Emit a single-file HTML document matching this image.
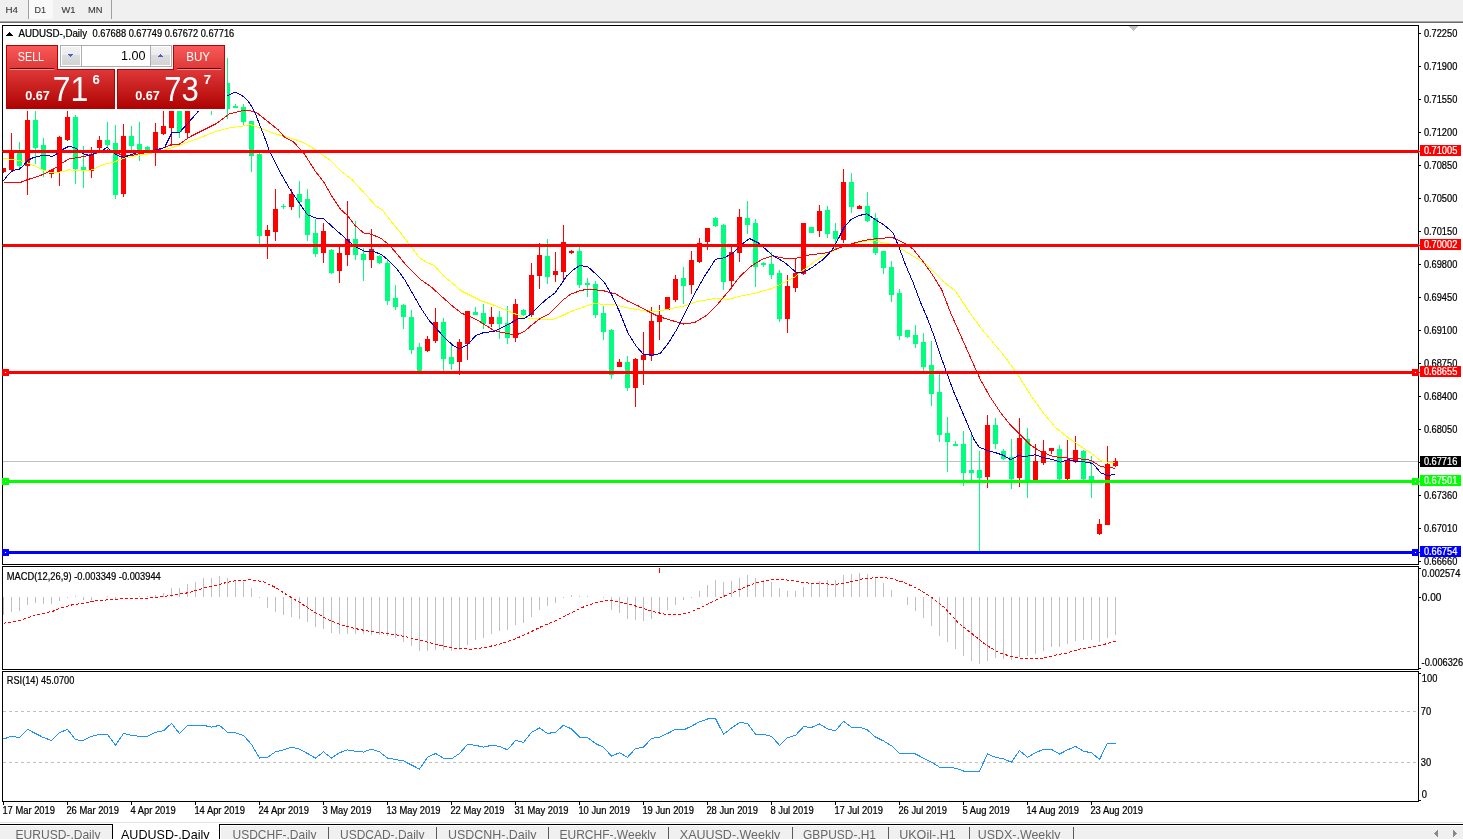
<!DOCTYPE html>
<html><head><meta charset="utf-8"><title>AUDUSD-,Daily</title>
<style>
html,body{margin:0;padding:0;background:#fff;}
body{width:1463px;height:839px;overflow:hidden;}
svg{display:block;}
text{font-family:'Liberation Sans', 'DejaVu Sans', Arial, sans-serif;}
</style></head><body>
<svg width="1463" height="839" viewBox="0 0 1463 839" shape-rendering="crispEdges">
<rect x="0" y="0" width="1463" height="839" fill="#ffffff"/>
<rect x="0" y="0" width="1463" height="21" fill="#f0f0f0"/>
<rect x="0" y="21" width="1463" height="1" fill="#a8a8a8"/>
<rect x="0" y="22" width="1463" height="1" fill="#6c6c6c"/>
<rect x="29" y="0" width="24" height="19" fill="#f9f9f9"/>
<rect x="28" y="0" width="1" height="19" fill="#a0a0a0"/>
<rect x="111" y="0" width="1" height="19" fill="#a0a0a0"/>
<text x="5.5" y="13.1" font-size="9.7" fill="#3a3a3a" stroke="#3a3a3a" stroke-width="0.12" textLength="12.5" lengthAdjust="spacingAndGlyphs">H4</text>
<text x="34.5" y="13.1" font-size="9.7" fill="#3a3a3a" stroke="#3a3a3a" stroke-width="0.12" textLength="11.5" lengthAdjust="spacingAndGlyphs">D1</text>
<text x="61.5" y="13.1" font-size="9.7" fill="#3a3a3a" stroke="#3a3a3a" stroke-width="0.12" textLength="14" lengthAdjust="spacingAndGlyphs">W1</text>
<text x="88" y="13.1" font-size="9.7" fill="#3a3a3a" stroke="#3a3a3a" stroke-width="0.12" textLength="14.5" lengthAdjust="spacingAndGlyphs">MN</text>
<g fill="none" stroke="#000" stroke-width="1">
<rect x="2.5" y="25.5" width="1416" height="539"/>
<rect x="2.5" y="566.5" width="1416" height="103"/>
<rect x="2.5" y="671.5" width="1416" height="130"/>
</g>
<polygon points="1129,26 1138.5,26 1133.75,31" fill="#c0c0c0"/>
<svg x="3" y="26" width="1415" height="538" viewBox="3 26 1415 538" overflow="hidden">
<rect x="3" y="461" width="1415" height="1" fill="#c0c0c0"/>
<rect x="3" y="168" width="1" height="5" fill="#ff0000"/>
<rect x="1" y="168" width="5" height="4" fill="#ff0000"/>
<rect x="11" y="133" width="1" height="38" fill="#ff0000"/>
<rect x="9" y="152" width="5" height="18" fill="#ff0000"/>
<rect x="19" y="142" width="1" height="26" fill="#00ff7f"/>
<rect x="17" y="153" width="5" height="13" fill="#00ff7f"/>
<rect x="27" y="100" width="1" height="95" fill="#ff0000"/>
<rect x="25" y="120" width="5" height="46" fill="#ff0000"/>
<rect x="35" y="100" width="1" height="64" fill="#00ff7f"/>
<rect x="33" y="120" width="5" height="28" fill="#00ff7f"/>
<rect x="43" y="138" width="1" height="39" fill="#00ff7f"/>
<rect x="41" y="145" width="5" height="25" fill="#00ff7f"/>
<rect x="51" y="169" width="1" height="9" fill="#ff0000"/>
<rect x="49" y="170" width="5" height="4" fill="#ff0000"/>
<rect x="59" y="136" width="1" height="50" fill="#ff0000"/>
<rect x="57" y="137" width="5" height="35" fill="#ff0000"/>
<rect x="67" y="100" width="1" height="41" fill="#ff0000"/>
<rect x="65" y="117" width="5" height="23" fill="#ff0000"/>
<rect x="75" y="115" width="1" height="69" fill="#00ff7f"/>
<rect x="73" y="117" width="5" height="52" fill="#00ff7f"/>
<rect x="83" y="146" width="1" height="42" fill="#00ff7f"/>
<rect x="81" y="167" width="5" height="4" fill="#00ff7f"/>
<rect x="91" y="147" width="1" height="31" fill="#ff0000"/>
<rect x="89" y="154" width="5" height="17" fill="#ff0000"/>
<rect x="99" y="136" width="1" height="14" fill="#ff0000"/>
<rect x="97" y="140" width="5" height="8" fill="#ff0000"/>
<rect x="107" y="122" width="1" height="25" fill="#00ff7f"/>
<rect x="105" y="140" width="5" height="5" fill="#00ff7f"/>
<rect x="115" y="125" width="1" height="74" fill="#00ff7f"/>
<rect x="113" y="143" width="5" height="52" fill="#00ff7f"/>
<rect x="123" y="124" width="1" height="73" fill="#ff0000"/>
<rect x="121" y="136" width="5" height="58" fill="#ff0000"/>
<rect x="131" y="126" width="1" height="27" fill="#00ff7f"/>
<rect x="129" y="136" width="5" height="10" fill="#00ff7f"/>
<rect x="139" y="122" width="1" height="39" fill="#00ff7f"/>
<rect x="137" y="144" width="5" height="8" fill="#00ff7f"/>
<rect x="147" y="146" width="1" height="7" fill="#00ff7f"/>
<rect x="145" y="147" width="5" height="5" fill="#00ff7f"/>
<rect x="155" y="123" width="1" height="43" fill="#ff0000"/>
<rect x="153" y="132" width="5" height="20" fill="#ff0000"/>
<rect x="163" y="111" width="1" height="24" fill="#ff0000"/>
<rect x="161" y="126" width="5" height="8" fill="#ff0000"/>
<rect x="171" y="90" width="1" height="56" fill="#ff0000"/>
<rect x="169" y="95" width="5" height="33" fill="#ff0000"/>
<rect x="179" y="85" width="1" height="53" fill="#00ff7f"/>
<rect x="177" y="95" width="5" height="37" fill="#00ff7f"/>
<rect x="187" y="85" width="1" height="54" fill="#ff0000"/>
<rect x="185" y="95" width="5" height="38" fill="#ff0000"/>
<rect x="195" y="70" width="1" height="36" fill="#00ff7f"/>
<rect x="193" y="85" width="5" height="16" fill="#00ff7f"/>
<rect x="203" y="60" width="1" height="41" fill="#ff0000"/>
<rect x="201" y="70" width="5" height="26" fill="#ff0000"/>
<rect x="211" y="60" width="1" height="55" fill="#00ff7f"/>
<rect x="209" y="70" width="5" height="31" fill="#00ff7f"/>
<rect x="219" y="60" width="1" height="41" fill="#ff0000"/>
<rect x="217" y="70" width="5" height="21" fill="#ff0000"/>
<rect x="227" y="58" width="1" height="61" fill="#00ff7f"/>
<rect x="225" y="83" width="5" height="26" fill="#00ff7f"/>
<rect x="235" y="104" width="1" height="4" fill="#00ff7f"/>
<rect x="233" y="106" width="5" height="2" fill="#00ff7f"/>
<rect x="243" y="104" width="1" height="22" fill="#00ff7f"/>
<rect x="241" y="107" width="5" height="15" fill="#00ff7f"/>
<rect x="251" y="121" width="1" height="51" fill="#00ff7f"/>
<rect x="249" y="121" width="5" height="35" fill="#00ff7f"/>
<rect x="259" y="153" width="1" height="91" fill="#00ff7f"/>
<rect x="257" y="154" width="5" height="82" fill="#00ff7f"/>
<rect x="267" y="225" width="1" height="34" fill="#ff0000"/>
<rect x="265" y="230" width="5" height="6" fill="#ff0000"/>
<rect x="275" y="189" width="1" height="52" fill="#ff0000"/>
<rect x="273" y="209" width="5" height="23" fill="#ff0000"/>
<rect x="283" y="204" width="1" height="5" fill="#00ff7f"/>
<rect x="281" y="206" width="5" height="1" fill="#00ff7f"/>
<rect x="291" y="189" width="1" height="21" fill="#ff0000"/>
<rect x="289" y="194" width="5" height="13" fill="#ff0000"/>
<rect x="299" y="181" width="1" height="37" fill="#00ff7f"/>
<rect x="297" y="194" width="5" height="8" fill="#00ff7f"/>
<rect x="307" y="189" width="1" height="52" fill="#00ff7f"/>
<rect x="305" y="199" width="5" height="36" fill="#00ff7f"/>
<rect x="315" y="219" width="1" height="38" fill="#00ff7f"/>
<rect x="313" y="233" width="5" height="21" fill="#00ff7f"/>
<rect x="323" y="223" width="1" height="40" fill="#ff0000"/>
<rect x="321" y="231" width="5" height="22" fill="#ff0000"/>
<rect x="331" y="249" width="1" height="25" fill="#00ff7f"/>
<rect x="329" y="250" width="5" height="23" fill="#00ff7f"/>
<rect x="339" y="247" width="1" height="36" fill="#ff0000"/>
<rect x="337" y="253" width="5" height="18" fill="#ff0000"/>
<rect x="347" y="201" width="1" height="65" fill="#ff0000"/>
<rect x="345" y="239" width="5" height="16" fill="#ff0000"/>
<rect x="355" y="221" width="1" height="39" fill="#00ff7f"/>
<rect x="353" y="239" width="5" height="16" fill="#00ff7f"/>
<rect x="363" y="248" width="1" height="33" fill="#00ff7f"/>
<rect x="361" y="254" width="5" height="6" fill="#00ff7f"/>
<rect x="371" y="229" width="1" height="39" fill="#ff0000"/>
<rect x="369" y="249" width="5" height="11" fill="#ff0000"/>
<rect x="379" y="255" width="1" height="9" fill="#00ff7f"/>
<rect x="377" y="256" width="5" height="7" fill="#00ff7f"/>
<rect x="387" y="260" width="1" height="45" fill="#00ff7f"/>
<rect x="385" y="263" width="5" height="38" fill="#00ff7f"/>
<rect x="395" y="285" width="1" height="25" fill="#00ff7f"/>
<rect x="393" y="298" width="5" height="9" fill="#00ff7f"/>
<rect x="403" y="304" width="1" height="25" fill="#00ff7f"/>
<rect x="401" y="305" width="5" height="12" fill="#00ff7f"/>
<rect x="411" y="310" width="1" height="44" fill="#00ff7f"/>
<rect x="409" y="317" width="5" height="33" fill="#00ff7f"/>
<rect x="419" y="343" width="1" height="30" fill="#00ff7f"/>
<rect x="417" y="347" width="5" height="25" fill="#00ff7f"/>
<rect x="427" y="336" width="1" height="16" fill="#ff0000"/>
<rect x="425" y="339" width="5" height="12" fill="#ff0000"/>
<rect x="435" y="308" width="1" height="35" fill="#ff0000"/>
<rect x="433" y="322" width="5" height="19" fill="#ff0000"/>
<rect x="443" y="318" width="1" height="54" fill="#00ff7f"/>
<rect x="441" y="322" width="5" height="37" fill="#00ff7f"/>
<rect x="451" y="345" width="1" height="25" fill="#00ff7f"/>
<rect x="449" y="357" width="5" height="7" fill="#00ff7f"/>
<rect x="459" y="339" width="1" height="36" fill="#ff0000"/>
<rect x="457" y="342" width="5" height="20" fill="#ff0000"/>
<rect x="467" y="311" width="1" height="49" fill="#ff0000"/>
<rect x="465" y="311" width="5" height="33" fill="#ff0000"/>
<rect x="475" y="307" width="1" height="8" fill="#00ff7f"/>
<rect x="473" y="312" width="5" height="3" fill="#00ff7f"/>
<rect x="483" y="304" width="1" height="25" fill="#00ff7f"/>
<rect x="481" y="313" width="5" height="11" fill="#00ff7f"/>
<rect x="491" y="307" width="1" height="20" fill="#ff0000"/>
<rect x="489" y="317" width="5" height="7" fill="#ff0000"/>
<rect x="499" y="311" width="1" height="28" fill="#00ff7f"/>
<rect x="497" y="317" width="5" height="7" fill="#00ff7f"/>
<rect x="507" y="306" width="1" height="38" fill="#00ff7f"/>
<rect x="505" y="323" width="5" height="15" fill="#00ff7f"/>
<rect x="515" y="299" width="1" height="43" fill="#ff0000"/>
<rect x="513" y="304" width="5" height="34" fill="#ff0000"/>
<rect x="523" y="309" width="1" height="7" fill="#00ff7f"/>
<rect x="521" y="310" width="5" height="5" fill="#00ff7f"/>
<rect x="531" y="263" width="1" height="54" fill="#ff0000"/>
<rect x="529" y="275" width="5" height="40" fill="#ff0000"/>
<rect x="539" y="243" width="1" height="46" fill="#ff0000"/>
<rect x="537" y="255" width="5" height="21" fill="#ff0000"/>
<rect x="547" y="239" width="1" height="45" fill="#00ff7f"/>
<rect x="545" y="256" width="5" height="21" fill="#00ff7f"/>
<rect x="555" y="252" width="1" height="30" fill="#ff0000"/>
<rect x="553" y="271" width="5" height="4" fill="#ff0000"/>
<rect x="563" y="225" width="1" height="56" fill="#ff0000"/>
<rect x="561" y="242" width="5" height="30" fill="#ff0000"/>
<rect x="571" y="250" width="1" height="4" fill="#ff0000"/>
<rect x="569" y="251" width="5" height="2" fill="#ff0000"/>
<rect x="579" y="247" width="1" height="41" fill="#00ff7f"/>
<rect x="577" y="251" width="5" height="34" fill="#00ff7f"/>
<rect x="587" y="278" width="1" height="19" fill="#00ff7f"/>
<rect x="585" y="283" width="5" height="2" fill="#00ff7f"/>
<rect x="595" y="281" width="1" height="37" fill="#00ff7f"/>
<rect x="593" y="284" width="5" height="31" fill="#00ff7f"/>
<rect x="603" y="306" width="1" height="34" fill="#00ff7f"/>
<rect x="601" y="313" width="5" height="19" fill="#00ff7f"/>
<rect x="611" y="329" width="1" height="50" fill="#00ff7f"/>
<rect x="609" y="330" width="5" height="45" fill="#00ff7f"/>
<rect x="619" y="359" width="1" height="8" fill="#ff0000"/>
<rect x="617" y="362" width="5" height="5" fill="#ff0000"/>
<rect x="627" y="356" width="1" height="35" fill="#00ff7f"/>
<rect x="625" y="362" width="5" height="26" fill="#00ff7f"/>
<rect x="635" y="358" width="1" height="49" fill="#ff0000"/>
<rect x="633" y="359" width="5" height="29" fill="#ff0000"/>
<rect x="643" y="332" width="1" height="53" fill="#ff0000"/>
<rect x="641" y="355" width="5" height="5" fill="#ff0000"/>
<rect x="651" y="307" width="1" height="54" fill="#ff0000"/>
<rect x="649" y="321" width="5" height="35" fill="#ff0000"/>
<rect x="659" y="305" width="1" height="35" fill="#ff0000"/>
<rect x="657" y="315" width="5" height="7" fill="#ff0000"/>
<rect x="667" y="297" width="1" height="13" fill="#ff0000"/>
<rect x="665" y="297" width="5" height="13" fill="#ff0000"/>
<rect x="675" y="275" width="1" height="27" fill="#ff0000"/>
<rect x="673" y="279" width="5" height="21" fill="#ff0000"/>
<rect x="683" y="267" width="1" height="37" fill="#00ff7f"/>
<rect x="681" y="278" width="5" height="8" fill="#00ff7f"/>
<rect x="691" y="251" width="1" height="43" fill="#ff0000"/>
<rect x="689" y="260" width="5" height="25" fill="#ff0000"/>
<rect x="699" y="238" width="1" height="25" fill="#ff0000"/>
<rect x="697" y="243" width="5" height="19" fill="#ff0000"/>
<rect x="707" y="228" width="1" height="22" fill="#ff0000"/>
<rect x="705" y="228" width="5" height="14" fill="#ff0000"/>
<rect x="715" y="217" width="1" height="10" fill="#00ff7f"/>
<rect x="713" y="218" width="5" height="8" fill="#00ff7f"/>
<rect x="723" y="224" width="1" height="66" fill="#00ff7f"/>
<rect x="721" y="225" width="5" height="57" fill="#00ff7f"/>
<rect x="731" y="247" width="1" height="42" fill="#ff0000"/>
<rect x="729" y="252" width="5" height="29" fill="#ff0000"/>
<rect x="739" y="209" width="1" height="53" fill="#ff0000"/>
<rect x="737" y="217" width="5" height="36" fill="#ff0000"/>
<rect x="747" y="201" width="1" height="33" fill="#00ff7f"/>
<rect x="745" y="218" width="5" height="7" fill="#00ff7f"/>
<rect x="755" y="219" width="1" height="68" fill="#00ff7f"/>
<rect x="753" y="223" width="5" height="44" fill="#00ff7f"/>
<rect x="763" y="262" width="1" height="5" fill="#00ff7f"/>
<rect x="761" y="263" width="5" height="2" fill="#00ff7f"/>
<rect x="771" y="252" width="1" height="27" fill="#00ff7f"/>
<rect x="769" y="264" width="5" height="11" fill="#00ff7f"/>
<rect x="779" y="270" width="1" height="52" fill="#00ff7f"/>
<rect x="777" y="273" width="5" height="46" fill="#00ff7f"/>
<rect x="787" y="275" width="1" height="58" fill="#ff0000"/>
<rect x="785" y="286" width="5" height="33" fill="#ff0000"/>
<rect x="795" y="258" width="1" height="34" fill="#ff0000"/>
<rect x="793" y="273" width="5" height="15" fill="#ff0000"/>
<rect x="803" y="223" width="1" height="52" fill="#ff0000"/>
<rect x="801" y="223" width="5" height="51" fill="#ff0000"/>
<rect x="811" y="227" width="1" height="6" fill="#00ff7f"/>
<rect x="809" y="227" width="5" height="6" fill="#00ff7f"/>
<rect x="819" y="205" width="1" height="32" fill="#ff0000"/>
<rect x="817" y="211" width="5" height="20" fill="#ff0000"/>
<rect x="827" y="206" width="1" height="32" fill="#00ff7f"/>
<rect x="825" y="210" width="5" height="24" fill="#00ff7f"/>
<rect x="835" y="223" width="1" height="27" fill="#00ff7f"/>
<rect x="833" y="231" width="5" height="8" fill="#00ff7f"/>
<rect x="843" y="169" width="1" height="74" fill="#ff0000"/>
<rect x="841" y="182" width="5" height="58" fill="#ff0000"/>
<rect x="851" y="173" width="1" height="40" fill="#00ff7f"/>
<rect x="849" y="182" width="5" height="25" fill="#00ff7f"/>
<rect x="859" y="205" width="1" height="4" fill="#ff0000"/>
<rect x="857" y="206" width="5" height="3" fill="#ff0000"/>
<rect x="867" y="192" width="1" height="30" fill="#00ff7f"/>
<rect x="865" y="206" width="5" height="15" fill="#00ff7f"/>
<rect x="875" y="213" width="1" height="42" fill="#00ff7f"/>
<rect x="873" y="218" width="5" height="35" fill="#00ff7f"/>
<rect x="883" y="251" width="1" height="23" fill="#00ff7f"/>
<rect x="881" y="251" width="5" height="17" fill="#00ff7f"/>
<rect x="891" y="261" width="1" height="41" fill="#00ff7f"/>
<rect x="889" y="267" width="5" height="28" fill="#00ff7f"/>
<rect x="899" y="289" width="1" height="51" fill="#00ff7f"/>
<rect x="897" y="293" width="5" height="43" fill="#00ff7f"/>
<rect x="907" y="330" width="1" height="8" fill="#00ff7f"/>
<rect x="905" y="330" width="5" height="7" fill="#00ff7f"/>
<rect x="915" y="325" width="1" height="23" fill="#00ff7f"/>
<rect x="913" y="335" width="5" height="9" fill="#00ff7f"/>
<rect x="923" y="333" width="1" height="39" fill="#00ff7f"/>
<rect x="921" y="342" width="5" height="25" fill="#00ff7f"/>
<rect x="931" y="341" width="1" height="65" fill="#00ff7f"/>
<rect x="929" y="365" width="5" height="29" fill="#00ff7f"/>
<rect x="939" y="374" width="1" height="68" fill="#00ff7f"/>
<rect x="937" y="392" width="5" height="43" fill="#00ff7f"/>
<rect x="947" y="417" width="1" height="55" fill="#00ff7f"/>
<rect x="945" y="433" width="5" height="9" fill="#00ff7f"/>
<rect x="955" y="441" width="1" height="5" fill="#00ff7f"/>
<rect x="953" y="444" width="5" height="2" fill="#00ff7f"/>
<rect x="963" y="431" width="1" height="55" fill="#00ff7f"/>
<rect x="961" y="444" width="5" height="29" fill="#00ff7f"/>
<rect x="971" y="434" width="1" height="47" fill="#00ff7f"/>
<rect x="969" y="470" width="5" height="3" fill="#00ff7f"/>
<rect x="979" y="451" width="1" height="101" fill="#00ff7f"/>
<rect x="977" y="470" width="5" height="8" fill="#00ff7f"/>
<rect x="987" y="415" width="1" height="73" fill="#ff0000"/>
<rect x="985" y="425" width="5" height="52" fill="#ff0000"/>
<rect x="995" y="418" width="1" height="31" fill="#00ff7f"/>
<rect x="993" y="425" width="5" height="19" fill="#00ff7f"/>
<rect x="1003" y="449" width="1" height="11" fill="#00ff7f"/>
<rect x="1001" y="451" width="5" height="8" fill="#00ff7f"/>
<rect x="1011" y="439" width="1" height="50" fill="#00ff7f"/>
<rect x="1009" y="457" width="5" height="22" fill="#00ff7f"/>
<rect x="1019" y="418" width="1" height="69" fill="#ff0000"/>
<rect x="1017" y="438" width="5" height="40" fill="#ff0000"/>
<rect x="1027" y="428" width="1" height="70" fill="#00ff7f"/>
<rect x="1025" y="439" width="5" height="41" fill="#00ff7f"/>
<rect x="1035" y="444" width="1" height="37" fill="#ff0000"/>
<rect x="1033" y="461" width="5" height="19" fill="#ff0000"/>
<rect x="1043" y="440" width="1" height="25" fill="#ff0000"/>
<rect x="1041" y="451" width="5" height="12" fill="#ff0000"/>
<rect x="1051" y="448" width="1" height="6" fill="#ff0000"/>
<rect x="1049" y="448" width="5" height="3" fill="#ff0000"/>
<rect x="1059" y="445" width="1" height="35" fill="#00ff7f"/>
<rect x="1057" y="449" width="5" height="30" fill="#00ff7f"/>
<rect x="1067" y="440" width="1" height="40" fill="#ff0000"/>
<rect x="1065" y="460" width="5" height="19" fill="#ff0000"/>
<rect x="1075" y="436" width="1" height="27" fill="#ff0000"/>
<rect x="1073" y="450" width="5" height="12" fill="#ff0000"/>
<rect x="1083" y="450" width="1" height="31" fill="#00ff7f"/>
<rect x="1081" y="451" width="5" height="28" fill="#00ff7f"/>
<rect x="1091" y="456" width="1" height="42" fill="#00ff7f"/>
<rect x="1089" y="476" width="5" height="6" fill="#00ff7f"/>
<rect x="1099" y="519" width="1" height="16" fill="#ff0000"/>
<rect x="1097" y="524" width="5" height="10" fill="#ff0000"/>
<rect x="1107" y="446" width="1" height="79" fill="#ff0000"/>
<rect x="1105" y="464" width="5" height="61" fill="#ff0000"/>
<rect x="1115" y="458" width="1" height="9" fill="#ff0000"/>
<rect x="1113" y="461" width="5" height="5" fill="#ff0000"/>
<g shape-rendering="crispEdges">
<polyline points="3.5,158.3 14.2,159.7 21.0,161.0 27.8,163.1 36.0,166.5 42.9,169.9 49.7,172.3 55.2,172.7 62.0,171.7 68.9,169.9 75.7,170.3 82.5,170.3 90.7,170.3 96.2,167.9 104.4,164.1 112.6,162.4 118.1,160.4 123.5,158.3 131.7,156.7 139.9,155.3 148.1,153.9 156.3,152.2 164.5,149.8 172.7,147.4 179.6,145.3 186.4,142.6 193.3,140.3 203.4,136.5 216.3,131.1 229.1,127.9 242.0,126.2 250.6,124.7 259.2,127.9 272.0,132.6 282.8,136.1 295.7,139.7 306.4,144.0 319.3,152.6 330.0,160.1 340.7,170.8 352.4,180.0 364.3,193.1 376.3,206.2 382.2,209.8 390.5,220.5 400.1,232.4 408.4,243.2 412.0,247.9 419.2,257.5 426.3,262.2 434.7,265.8 443.3,275.8 453.4,283.9 461.6,291.0 471.7,296.1 481.8,301.1 494.0,305.2 506.1,310.2 516.3,314.3 522.3,317.3 530.5,318.3 540.6,319.4 552.7,319.4 558.8,317.3 568.9,312.3 581.8,307.6 593.1,303.7 604.5,304.2 615.8,304.9 629.4,308.3 643.0,310.5 656.6,311.4 667.9,309.2 683.8,306.0 697.3,301.5 715.5,298.5 729.1,299.2 742.6,295.6 756.2,292.9 772.4,288.5 784.3,282.5 793.9,277.7 803.4,270.1 815.3,261.0 827.2,253.9 839.2,247.9 851.1,243.9 863.0,241.5 872.5,240.1 882.1,242.5 894.0,244.8 903.5,250.3 915.5,257.5 927.4,265.3 943.0,281.3 955.5,291.3 968.0,310.1 980.6,327.6 993.1,342.6 1005.6,357.6 1018.1,375.1 1030.6,395.2 1043.1,412.7 1055.7,427.7 1068.2,437.7 1080.7,446.5 1090.7,452.7 1100.7,460.7 1108.2,462.2 1115.2,462.7" fill="none" stroke="#ffff00" stroke-width="1"/>
<polyline points="3.5,182.6 16.9,182.6 21.0,182.2 27.8,179.5 34.7,177.5 41.5,175.0 48.3,172.0 56.5,167.2 62.0,163.1 68.9,159.0 77.1,157.6 85.3,156.3 93.5,154.2 100.3,151.5 107.5,150.0 115.3,153.0 123.5,155.0 131.7,155.6 139.9,153.5 148.1,152.6 156.3,151.5 164.5,147.4 171.4,144.6 179.6,144.0 186.4,139.2 190.5,136.5 203.4,130.1 216.3,123.6 229.1,114.0 242.0,110.8 250.6,110.8 257.0,112.9 267.8,121.5 278.5,130.1 284.9,137.6 293.5,141.9 304.2,153.7 315.0,170.8 323.5,181.6 332.1,196.6 340.7,209.5 347.7,215.8 354.8,225.3 363.7,233.0 371.5,234.2 381.0,238.4 388.6,244.4 396.7,253.5 404.8,263.6 412.9,271.7 421.0,279.8 431.2,286.9 441.3,296.1 451.4,305.2 461.6,313.3 469.7,316.3 477.8,320.4 485.9,325.4 494.0,330.5 502.1,332.5 510.2,334.1 518.3,334.1 524.4,331.5 532.5,324.4 540.6,318.3 548.7,314.3 554.8,308.2 562.9,300.1 571.0,294.0 581.8,290.1 593.1,289.5 604.5,291.0 615.8,294.0 627.1,300.8 638.5,306.0 647.5,311.0 658.8,316.6 670.2,320.0 683.8,324.1 695.1,322.3 706.4,315.5 717.7,304.2 729.1,290.6 740.4,275.9 751.7,265.7 763.0,258.9 772.4,255.8 784.3,258.2 796.3,258.2 808.2,255.1 827.2,252.7 839.2,247.9 851.1,243.9 863.0,240.8 872.5,239.1 882.1,238.4 891.6,237.2 903.5,242.5 913.1,249.1 922.6,261.0 932.1,274.2 941.7,289.7 950.5,312.6 960.5,335.1 970.5,357.6 980.6,380.1 990.6,397.7 1000.6,412.7 1010.6,425.2 1020.6,435.2 1030.6,445.2 1040.6,451.5 1050.7,455.7 1060.7,457.7 1070.7,458.2 1080.7,459.0 1090.7,460.2 1100.7,466.5 1108.2,467.7 1115.2,468.2" fill="none" stroke="#ff0000" stroke-width="1"/>
<polyline points="3.5,181.0 7.5,175.4 12.8,170.6 19.6,169.0 23.7,165.2 27.8,160.4 33.3,157.6 40.1,155.9 47.0,155.6 52.4,156.4 57.9,153.1 63.4,149.0 68.9,146.3 74.3,147.4 78.4,150.1 83.9,153.9 89.4,155.6 94.8,153.5 100.3,151.5 107.1,147.4 109.9,150.1 115.3,154.2 120.8,156.7 124.9,157.2 129.0,155.3 135.8,153.1 142.7,151.8 150.9,150.8 157.7,149.4 164.5,147.7 172.1,132.3 179.6,132.3 186.4,124.8 191.9,118.7 198.0,111.6 205.5,104.0 212.5,99.0 220.5,96.0 227.8,95.7 231.5,93.5 235.7,92.4 242.2,95.7 247.5,100.3 251.4,106.2 255.4,113.4 259.3,123.9 264.5,137.0 268.8,149.4 274.2,160.1 280.6,173.0 289.2,188.0 297.8,200.9 307.5,214.8 316.0,218.0 323.5,218.5 332.1,226.6 340.7,234.1 349.3,241.7 355.7,247.0 364.3,251.3 372.9,251.3 381.5,254.5 388.6,260.6 396.7,268.7 404.8,279.8 412.9,294.0 421.0,308.2 429.1,320.4 437.2,329.5 445.3,338.6 453.4,345.7 459.5,348.7 467.6,344.7 475.7,335.6 483.8,332.5 494.0,331.5 502.1,327.5 510.2,323.4 518.3,318.7 524.4,318.3 530.5,314.3 538.6,306.2 546.7,299.1 554.8,293.0 560.8,284.9 566.9,275.8 573.0,270.1 579.6,265.7 587.5,266.4 595.4,273.6 604.5,282.7 611.3,294.0 619.2,311.0 628.3,333.6 636.2,346.1 643.0,354.0 652.0,355.2 660.0,353.6 667.9,343.8 677.0,329.1 686.0,311.0 695.1,292.9 704.1,277.0 715.5,259.3 724.5,257.8 733.6,252.5 740.4,245.3 749.4,238.5 758.5,243.0 772.4,255.1 784.3,262.2 796.3,272.5 803.4,272.5 812.9,267.0 822.5,259.9 832.0,250.3 839.2,237.2 843.9,227.7 851.1,219.3 858.2,215.8 866.6,213.8 874.9,219.3 884.5,225.3 892.8,232.4 898.8,246.7 905.9,265.8 913.1,282.5 920.2,301.6 927.4,318.3 934.5,337.3 941.7,358.8 953.0,390.1 960.5,407.7 968.0,425.2 974.3,440.2 979.3,447.2 988.1,450.7 995.6,452.7 1003.1,455.2 1010.6,459.7 1018.1,455.7 1025.6,456.5 1035.6,454.7 1043.1,457.7 1053.2,459.7 1060.7,462.2 1068.2,459.7 1075.7,461.5 1088.2,462.2 1093.2,464.0 1100.7,472.8 1108.2,475.8 1115.2,474.0" fill="none" stroke="#0000cd" stroke-width="1"/>
</g>
</svg>
<rect x="3" y="150" width="1416" height="3" fill="#ff0000"/>
<rect x="2" y="151" width="1" height="1" fill="#ff0000"/>
<rect x="1419" y="151" width="2" height="1" fill="#ff0000"/>
<rect x="3" y="244" width="1416" height="3" fill="#ff0000"/>
<rect x="2" y="245" width="1" height="1" fill="#ff0000"/>
<rect x="1419" y="245" width="2" height="1" fill="#ff0000"/>
<rect x="3" y="371" width="1416" height="3" fill="#ff0000"/>
<rect x="2" y="372" width="1" height="1" fill="#ff0000"/>
<rect x="1419" y="372" width="2" height="1" fill="#ff0000"/>
<rect x="2" y="369" width="7" height="7" fill="#ff0000"/>
<rect x="5" y="372" width="1" height="1" fill="#ffffff"/>
<rect x="1412" y="369" width="7" height="7" fill="#ff0000"/>
<rect x="1415" y="372" width="1" height="1" fill="#ffffff"/>
<rect x="3" y="480" width="1416" height="3" fill="#00ff00"/>
<rect x="2" y="481" width="1" height="1" fill="#00ff00"/>
<rect x="1419" y="481" width="2" height="1" fill="#00ff00"/>
<rect x="2" y="478" width="7" height="7" fill="#00ff00"/>
<rect x="5" y="481" width="1" height="1" fill="#ffffff"/>
<rect x="1412" y="478" width="7" height="7" fill="#00ff00"/>
<rect x="1415" y="481" width="1" height="1" fill="#ffffff"/>
<rect x="3" y="551" width="1416" height="3" fill="#0000ff"/>
<rect x="2" y="552" width="1" height="1" fill="#0000ff"/>
<rect x="1419" y="552" width="2" height="1" fill="#0000ff"/>
<rect x="2" y="549" width="7" height="7" fill="#0000ff"/>
<rect x="5" y="552" width="1" height="1" fill="#ffffff"/>
<rect x="1412" y="549" width="7" height="7" fill="#0000ff"/>
<rect x="1415" y="552" width="1" height="1" fill="#ffffff"/>
<rect x="1419" y="33" width="2" height="1" fill="#000"/>
<text x="1423.9" y="37" font-size="10.0" fill="#000" stroke="#000" stroke-width="0.22" textLength="33.4" lengthAdjust="spacingAndGlyphs">0.72250</text>
<rect x="1419" y="66" width="2" height="1" fill="#000"/>
<text x="1423.9" y="70" font-size="10.0" fill="#000" stroke="#000" stroke-width="0.22" textLength="33.4" lengthAdjust="spacingAndGlyphs">0.71900</text>
<rect x="1419" y="99" width="2" height="1" fill="#000"/>
<text x="1423.9" y="103" font-size="10.0" fill="#000" stroke="#000" stroke-width="0.22" textLength="33.4" lengthAdjust="spacingAndGlyphs">0.71550</text>
<rect x="1419" y="132" width="2" height="1" fill="#000"/>
<text x="1423.9" y="136" font-size="10.0" fill="#000" stroke="#000" stroke-width="0.22" textLength="33.4" lengthAdjust="spacingAndGlyphs">0.71200</text>
<rect x="1419" y="165" width="2" height="1" fill="#000"/>
<text x="1423.9" y="169" font-size="10.0" fill="#000" stroke="#000" stroke-width="0.22" textLength="33.4" lengthAdjust="spacingAndGlyphs">0.70850</text>
<rect x="1419" y="198" width="2" height="1" fill="#000"/>
<text x="1423.9" y="202" font-size="10.0" fill="#000" stroke="#000" stroke-width="0.22" textLength="33.4" lengthAdjust="spacingAndGlyphs">0.70500</text>
<rect x="1419" y="231" width="2" height="1" fill="#000"/>
<text x="1423.9" y="235" font-size="10.0" fill="#000" stroke="#000" stroke-width="0.22" textLength="33.4" lengthAdjust="spacingAndGlyphs">0.70150</text>
<rect x="1419" y="264" width="2" height="1" fill="#000"/>
<text x="1423.9" y="268" font-size="10.0" fill="#000" stroke="#000" stroke-width="0.22" textLength="33.4" lengthAdjust="spacingAndGlyphs">0.69800</text>
<rect x="1419" y="297" width="2" height="1" fill="#000"/>
<text x="1423.9" y="301" font-size="10.0" fill="#000" stroke="#000" stroke-width="0.22" textLength="33.4" lengthAdjust="spacingAndGlyphs">0.69450</text>
<rect x="1419" y="330" width="2" height="1" fill="#000"/>
<text x="1423.9" y="334" font-size="10.0" fill="#000" stroke="#000" stroke-width="0.22" textLength="33.4" lengthAdjust="spacingAndGlyphs">0.69100</text>
<rect x="1419" y="363" width="2" height="1" fill="#000"/>
<text x="1423.9" y="367" font-size="10.0" fill="#000" stroke="#000" stroke-width="0.22" textLength="33.4" lengthAdjust="spacingAndGlyphs">0.68750</text>
<rect x="1419" y="396" width="2" height="1" fill="#000"/>
<text x="1423.9" y="400" font-size="10.0" fill="#000" stroke="#000" stroke-width="0.22" textLength="33.4" lengthAdjust="spacingAndGlyphs">0.68400</text>
<rect x="1419" y="429" width="2" height="1" fill="#000"/>
<text x="1423.9" y="433" font-size="10.0" fill="#000" stroke="#000" stroke-width="0.22" textLength="33.4" lengthAdjust="spacingAndGlyphs">0.68050</text>
<rect x="1419" y="462" width="2" height="1" fill="#000"/>
<text x="1423.9" y="466" font-size="10.0" fill="#000" stroke="#000" stroke-width="0.22" textLength="33.4" lengthAdjust="spacingAndGlyphs">0.67700</text>
<rect x="1419" y="495" width="2" height="1" fill="#000"/>
<text x="1423.9" y="499" font-size="10.0" fill="#000" stroke="#000" stroke-width="0.22" textLength="33.4" lengthAdjust="spacingAndGlyphs">0.67360</text>
<rect x="1419" y="528" width="2" height="1" fill="#000"/>
<text x="1423.9" y="532" font-size="10.0" fill="#000" stroke="#000" stroke-width="0.22" textLength="33.4" lengthAdjust="spacingAndGlyphs">0.67010</text>
<rect x="1419" y="561" width="2" height="1" fill="#000"/>
<text x="1423.9" y="565" font-size="10.0" fill="#000" stroke="#000" stroke-width="0.22" textLength="33.4" lengthAdjust="spacingAndGlyphs">0.66660</text>
<rect x="1420" y="145" width="41" height="11" fill="#ff0000"/>
<text x="1423.9" y="154" font-size="10.0" fill="#fff" stroke="#fff" stroke-width="0.22" textLength="33.4" lengthAdjust="spacingAndGlyphs">0.71005</text>
<rect x="1420" y="239" width="41" height="11" fill="#ff0000"/>
<text x="1423.9" y="248" font-size="10.0" fill="#fff" stroke="#fff" stroke-width="0.22" textLength="33.4" lengthAdjust="spacingAndGlyphs">0.70002</text>
<rect x="1420" y="366" width="41" height="11" fill="#ff0000"/>
<text x="1423.9" y="375" font-size="10.0" fill="#fff" stroke="#fff" stroke-width="0.22" textLength="33.4" lengthAdjust="spacingAndGlyphs">0.68655</text>
<rect x="1420" y="456" width="41" height="11" fill="#000000"/>
<text x="1423.9" y="465" font-size="10.0" fill="#fff" stroke="#fff" stroke-width="0.22" textLength="33.4" lengthAdjust="spacingAndGlyphs">0.67716</text>
<rect x="1420" y="475" width="41" height="11" fill="#00ff00"/>
<text x="1423.9" y="484" font-size="10.0" fill="#fff" stroke="#fff" stroke-width="0.22" textLength="33.4" lengthAdjust="spacingAndGlyphs">0.67501</text>
<rect x="1420" y="546" width="41" height="11" fill="#0000ff"/>
<text x="1423.9" y="555" font-size="10.0" fill="#fff" stroke="#fff" stroke-width="0.22" textLength="33.4" lengthAdjust="spacingAndGlyphs">0.66754</text>
<polygon points="6,36 13,36 9.5,32" fill="#000"/>
<text x="18.4" y="37.1" font-size="10.0" fill="#000" stroke="#000" stroke-width="0.22" textLength="68.6" lengthAdjust="spacingAndGlyphs">AUDUSD-,Daily</text>
<text x="92.6" y="37.1" font-size="10.0" fill="#000" stroke="#000" stroke-width="0.22" textLength="141.6" lengthAdjust="spacingAndGlyphs">0.67688 0.67749 0.67672 0.67716</text>
<defs>
<linearGradient id="gPan" gradientUnits="userSpaceOnUse" x1="0" y1="45" x2="0" y2="109"><stop offset="0" stop-color="#fa5a5a"/><stop offset="0.36" stop-color="#e03a3a"/><stop offset="1" stop-color="#ae0202"/></linearGradient>
<linearGradient id="gTop" x1="0" y1="0" x2="0" y2="1"><stop offset="0" stop-color="#fb5a5a"/><stop offset="1" stop-color="#de3232"/></linearGradient>
<linearGradient id="gBot" x1="0" y1="0" x2="0" y2="1"><stop offset="0" stop-color="#e03434"/><stop offset="1" stop-color="#b00202"/></linearGradient>
<linearGradient id="gBtn" x1="0" y1="0" x2="0" y2="1"><stop offset="0" stop-color="#f2f2f2"/><stop offset="0.45" stop-color="#ebebeb"/><stop offset="0.46" stop-color="#dddddd"/><stop offset="1" stop-color="#d3d3d3"/></linearGradient>
</defs>
<rect x="3" y="43" width="224" height="68" fill="#ffffff"/>
<path d="M6.5,45.5 H57.5 V69.5 H114.5 V108.5 H6.5 Z" fill="url(#gPan)" stroke="#b80000" stroke-width="1"/>
<rect x="10" y="68" width="44" height="1" fill="#6a0000"/>
<rect x="10" y="69" width="44" height="1" fill="#f08a8a"/>
<path d="M117.5,69.5 H173.5 V45.5 H224.5 V108.5 H117.5 Z" fill="url(#gPan)" stroke="#b80000" stroke-width="1"/>
<rect x="177" y="68" width="44" height="1" fill="#6a0000"/>
<rect x="177" y="69" width="44" height="1" fill="#f08a8a"/>
<rect x="60" y="45" width="112" height="22" fill="#a8acb4"/>
<rect x="61" y="46" width="110" height="20" fill="#ffffff"/>
<rect x="62" y="47" width="18" height="18" fill="url(#gBtn)"/>
<rect x="81" y="46" width="1" height="20" fill="#a8acb4"/>
<rect x="150" y="46" width="1" height="20" fill="#a8acb4"/>
<rect x="151" y="47" width="19" height="18" fill="url(#gBtn)"/>
<polygon points="67.5,54 73.5,54 70.5,57.5" fill="#4a5fc8"/>
<polygon points="157.5,57 163.5,57 160.5,53.5" fill="#4a5fc8"/>
<text x="145.5" y="60.2" font-size="12.6" fill="#000" text-anchor="end">1.00</text>
<text x="17.8" y="61.2" font-size="13" fill="#fff" textLength="26.3" lengthAdjust="spacingAndGlyphs">SELL</text>
<text x="186.3" y="61.2" font-size="13" fill="#fff" textLength="23.8" lengthAdjust="spacingAndGlyphs">BUY</text>
<text x="25.3" y="100.4" font-size="12.8" fill="#fff" textLength="24.6" lengthAdjust="spacingAndGlyphs" font-weight="bold">0.67</text>
<text x="52.8" y="100.6" font-size="34.8" fill="#fff" textLength="35.6" lengthAdjust="spacingAndGlyphs">71</text>
<text x="92.6" y="84.4" font-size="13.2" fill="#fff" textLength="7.3" lengthAdjust="spacingAndGlyphs" font-weight="bold">6</text>
<text x="135.3" y="100.4" font-size="12.8" fill="#fff" textLength="24.6" lengthAdjust="spacingAndGlyphs" font-weight="bold">0.67</text>
<text x="164.2" y="100.6" font-size="34.8" fill="#fff" textLength="34.6" lengthAdjust="spacingAndGlyphs">73</text>
<text x="203.8" y="84.4" font-size="13.2" fill="#fff" textLength="7.3" lengthAdjust="spacingAndGlyphs" font-weight="bold">7</text>
<text x="6.8" y="580" font-size="10.0" fill="#000" stroke="#000" stroke-width="0.22" textLength="154" lengthAdjust="spacingAndGlyphs">MACD(12,26,9) -0.003349 -0.003944</text>
<rect x="3" y="597" width="1" height="18" fill="#c0c0c0"/>
<rect x="11" y="597" width="1" height="15" fill="#c0c0c0"/>
<rect x="19" y="597" width="1" height="14" fill="#c0c0c0"/>
<rect x="27" y="597" width="1" height="8" fill="#c0c0c0"/>
<rect x="35" y="597" width="1" height="6" fill="#c0c0c0"/>
<rect x="43" y="597" width="1" height="7" fill="#c0c0c0"/>
<rect x="51" y="597" width="1" height="7" fill="#c0c0c0"/>
<rect x="59" y="597" width="1" height="4" fill="#c0c0c0"/>
<rect x="67" y="597" width="1" height="1" fill="#c0c0c0"/>
<rect x="75" y="596" width="1" height="1" fill="#c0c0c0"/>
<rect x="83" y="597" width="1" height="3" fill="#c0c0c0"/>
<rect x="91" y="597" width="1" height="3" fill="#c0c0c0"/>
<rect x="107" y="596" width="1" height="1" fill="#c0c0c0"/>
<rect x="115" y="597" width="1" height="3" fill="#c0c0c0"/>
<rect x="139" y="596" width="1" height="1" fill="#c0c0c0"/>
<rect x="147" y="596" width="1" height="1" fill="#c0c0c0"/>
<rect x="155" y="595" width="1" height="2" fill="#c0c0c0"/>
<rect x="163" y="593" width="1" height="4" fill="#c0c0c0"/>
<rect x="171" y="588" width="1" height="9" fill="#c0c0c0"/>
<rect x="179" y="588" width="1" height="9" fill="#c0c0c0"/>
<rect x="187" y="584" width="1" height="13" fill="#c0c0c0"/>
<rect x="195" y="582" width="1" height="15" fill="#c0c0c0"/>
<rect x="203" y="578" width="1" height="19" fill="#c0c0c0"/>
<rect x="211" y="578" width="1" height="19" fill="#c0c0c0"/>
<rect x="219" y="576" width="1" height="21" fill="#c0c0c0"/>
<rect x="227" y="578" width="1" height="19" fill="#c0c0c0"/>
<rect x="235" y="580" width="1" height="17" fill="#c0c0c0"/>
<rect x="243" y="582" width="1" height="15" fill="#c0c0c0"/>
<rect x="251" y="588" width="1" height="9" fill="#c0c0c0"/>
<rect x="259" y="597" width="1" height="1" fill="#c0c0c0"/>
<rect x="267" y="597" width="1" height="11" fill="#c0c0c0"/>
<rect x="275" y="597" width="1" height="15" fill="#c0c0c0"/>
<rect x="283" y="597" width="1" height="18" fill="#c0c0c0"/>
<rect x="291" y="597" width="1" height="20" fill="#c0c0c0"/>
<rect x="299" y="597" width="1" height="22" fill="#c0c0c0"/>
<rect x="307" y="597" width="1" height="25" fill="#c0c0c0"/>
<rect x="315" y="597" width="1" height="30" fill="#c0c0c0"/>
<rect x="323" y="597" width="1" height="32" fill="#c0c0c0"/>
<rect x="331" y="597" width="1" height="36" fill="#c0c0c0"/>
<rect x="339" y="597" width="1" height="37" fill="#c0c0c0"/>
<rect x="347" y="597" width="1" height="37" fill="#c0c0c0"/>
<rect x="355" y="597" width="1" height="37" fill="#c0c0c0"/>
<rect x="363" y="597" width="1" height="37" fill="#c0c0c0"/>
<rect x="371" y="597" width="1" height="38" fill="#c0c0c0"/>
<rect x="379" y="597" width="1" height="38" fill="#c0c0c0"/>
<rect x="387" y="597" width="1" height="39" fill="#c0c0c0"/>
<rect x="395" y="597" width="1" height="41" fill="#c0c0c0"/>
<rect x="403" y="597" width="1" height="45" fill="#c0c0c0"/>
<rect x="411" y="597" width="1" height="49" fill="#c0c0c0"/>
<rect x="419" y="597" width="1" height="54" fill="#c0c0c0"/>
<rect x="427" y="597" width="1" height="54" fill="#c0c0c0"/>
<rect x="435" y="597" width="1" height="53" fill="#c0c0c0"/>
<rect x="443" y="597" width="1" height="53" fill="#c0c0c0"/>
<rect x="451" y="597" width="1" height="54" fill="#c0c0c0"/>
<rect x="459" y="597" width="1" height="53" fill="#c0c0c0"/>
<rect x="467" y="597" width="1" height="48" fill="#c0c0c0"/>
<rect x="475" y="597" width="1" height="43" fill="#c0c0c0"/>
<rect x="483" y="597" width="1" height="41" fill="#c0c0c0"/>
<rect x="491" y="597" width="1" height="37" fill="#c0c0c0"/>
<rect x="499" y="597" width="1" height="34" fill="#c0c0c0"/>
<rect x="507" y="597" width="1" height="33" fill="#c0c0c0"/>
<rect x="515" y="597" width="1" height="28" fill="#c0c0c0"/>
<rect x="523" y="597" width="1" height="26" fill="#c0c0c0"/>
<rect x="531" y="597" width="1" height="20" fill="#c0c0c0"/>
<rect x="539" y="597" width="1" height="13" fill="#c0c0c0"/>
<rect x="547" y="597" width="1" height="9" fill="#c0c0c0"/>
<rect x="555" y="597" width="1" height="6" fill="#c0c0c0"/>
<rect x="563" y="597" width="1" height="1" fill="#c0c0c0"/>
<rect x="571" y="595" width="1" height="2" fill="#c0c0c0"/>
<rect x="579" y="596" width="1" height="1" fill="#c0c0c0"/>
<rect x="587" y="596" width="1" height="1" fill="#c0c0c0"/>
<rect x="603" y="597" width="1" height="1" fill="#c0c0c0"/>
<rect x="611" y="597" width="1" height="13" fill="#c0c0c0"/>
<rect x="619" y="597" width="1" height="16" fill="#c0c0c0"/>
<rect x="627" y="597" width="1" height="22" fill="#c0c0c0"/>
<rect x="635" y="597" width="1" height="23" fill="#c0c0c0"/>
<rect x="643" y="597" width="1" height="24" fill="#c0c0c0"/>
<rect x="651" y="597" width="1" height="22" fill="#c0c0c0"/>
<rect x="659" y="597" width="1" height="17" fill="#c0c0c0"/>
<rect x="667" y="597" width="1" height="13" fill="#c0c0c0"/>
<rect x="675" y="597" width="1" height="8" fill="#c0c0c0"/>
<rect x="683" y="597" width="1" height="3" fill="#c0c0c0"/>
<rect x="691" y="597" width="1" height="1" fill="#c0c0c0"/>
<rect x="699" y="591" width="1" height="6" fill="#c0c0c0"/>
<rect x="707" y="585" width="1" height="12" fill="#c0c0c0"/>
<rect x="715" y="580" width="1" height="17" fill="#c0c0c0"/>
<rect x="723" y="582" width="1" height="15" fill="#c0c0c0"/>
<rect x="731" y="581" width="1" height="16" fill="#c0c0c0"/>
<rect x="739" y="578" width="1" height="19" fill="#c0c0c0"/>
<rect x="747" y="575" width="1" height="22" fill="#c0c0c0"/>
<rect x="755" y="578" width="1" height="19" fill="#c0c0c0"/>
<rect x="763" y="580" width="1" height="17" fill="#c0c0c0"/>
<rect x="771" y="582" width="1" height="15" fill="#c0c0c0"/>
<rect x="779" y="588" width="1" height="9" fill="#c0c0c0"/>
<rect x="787" y="591" width="1" height="6" fill="#c0c0c0"/>
<rect x="795" y="591" width="1" height="6" fill="#c0c0c0"/>
<rect x="803" y="587" width="1" height="10" fill="#c0c0c0"/>
<rect x="811" y="584" width="1" height="13" fill="#c0c0c0"/>
<rect x="819" y="581" width="1" height="16" fill="#c0c0c0"/>
<rect x="827" y="580" width="1" height="17" fill="#c0c0c0"/>
<rect x="835" y="580" width="1" height="17" fill="#c0c0c0"/>
<rect x="843" y="575" width="1" height="22" fill="#c0c0c0"/>
<rect x="851" y="574" width="1" height="23" fill="#c0c0c0"/>
<rect x="859" y="573" width="1" height="24" fill="#c0c0c0"/>
<rect x="867" y="574" width="1" height="23" fill="#c0c0c0"/>
<rect x="875" y="578" width="1" height="19" fill="#c0c0c0"/>
<rect x="883" y="583" width="1" height="14" fill="#c0c0c0"/>
<rect x="891" y="590" width="1" height="7" fill="#c0c0c0"/>
<rect x="907" y="597" width="1" height="8" fill="#c0c0c0"/>
<rect x="915" y="597" width="1" height="14" fill="#c0c0c0"/>
<rect x="923" y="597" width="1" height="21" fill="#c0c0c0"/>
<rect x="931" y="597" width="1" height="29" fill="#c0c0c0"/>
<rect x="939" y="597" width="1" height="39" fill="#c0c0c0"/>
<rect x="947" y="597" width="1" height="45" fill="#c0c0c0"/>
<rect x="955" y="597" width="1" height="52" fill="#c0c0c0"/>
<rect x="963" y="597" width="1" height="59" fill="#c0c0c0"/>
<rect x="971" y="597" width="1" height="64" fill="#c0c0c0"/>
<rect x="979" y="597" width="1" height="67" fill="#c0c0c0"/>
<rect x="987" y="597" width="1" height="64" fill="#c0c0c0"/>
<rect x="995" y="597" width="1" height="61" fill="#c0c0c0"/>
<rect x="1003" y="597" width="1" height="62" fill="#c0c0c0"/>
<rect x="1011" y="597" width="1" height="63" fill="#c0c0c0"/>
<rect x="1019" y="597" width="1" height="60" fill="#c0c0c0"/>
<rect x="1027" y="597" width="1" height="59" fill="#c0c0c0"/>
<rect x="1035" y="597" width="1" height="57" fill="#c0c0c0"/>
<rect x="1043" y="597" width="1" height="54" fill="#c0c0c0"/>
<rect x="1051" y="597" width="1" height="50" fill="#c0c0c0"/>
<rect x="1059" y="597" width="1" height="50" fill="#c0c0c0"/>
<rect x="1067" y="597" width="1" height="47" fill="#c0c0c0"/>
<rect x="1075" y="597" width="1" height="44" fill="#c0c0c0"/>
<rect x="1083" y="597" width="1" height="43" fill="#c0c0c0"/>
<rect x="1091" y="597" width="1" height="43" fill="#c0c0c0"/>
<rect x="1099" y="597" width="1" height="45" fill="#c0c0c0"/>
<rect x="1107" y="597" width="1" height="41" fill="#c0c0c0"/>
<rect x="1115" y="597" width="1" height="38" fill="#c0c0c0"/>
<g shape-rendering="crispEdges">
<polyline points="3.5,623.2 16.9,621.3 29.9,617.2 34.7,615.2 41.5,613.8 47.0,612.4 52.5,611.5 59.3,608.3 64.8,607.0 70.2,605.2 77.1,604.2 82.5,603.3 88.0,602.2 94.8,600.8 101.7,600.4 109.9,599.7 118.1,599.2 123.5,598.3 137.2,598.3 148.1,598.3 155.0,597.4 164.5,596.4 171.4,595.3 178.2,594.2 185.1,593.3 191.9,591.9 197.4,589.9 205.5,587.7 219.2,584.4 227.5,582.2 238.4,580.3 252.0,579.8 263.0,581.7 273.9,586.6 287.6,595.3 301.2,603.5 314.9,612.3 328.6,620.0 342.3,625.4 355.9,628.7 369.6,631.4 383.3,633.0 393.2,634.4 404.2,636.4 417.8,639.6 431.5,643.2 445.2,646.7 458.9,648.7 472.5,649.2 486.2,647.3 499.9,644.0 513.5,639.6 527.2,633.6 540.9,626.8 554.5,621.3 568.2,614.5 581.9,607.6 595.6,602.7 609.2,600.3 622.9,602.7 636.6,606.3 650.2,610.9 663.9,614.0 677.6,615.0 691.3,611.7 704.9,605.7 718.6,598.6 732.3,592.6 745.9,586.6 759.6,581.7 773.3,579.5 783.2,579.5 794.2,581.1 807.8,583.0 821.5,583.6 835.2,584.4 848.9,582.2 862.5,578.9 876.2,577.6 889.9,578.1 903.5,582.2 917.2,588.5 930.9,596.7 944.5,607.6 958.2,622.7 971.9,633.6 985.6,644.6 999.2,652.8 1012.9,656.9 1026.6,659.0 1040.2,658.8 1053.9,655.5 1067.6,652.8 1081.3,648.7 1094.9,646.7 1108.6,643.2 1115.7,641.3" fill="none" stroke="#ff0000" stroke-width="1" stroke-dasharray="3,2"/>
</g>
<rect x="659" y="568" width="1" height="5" fill="#ff0000"/>
<rect x="1419" y="568" width="2" height="1" fill="#000"/>
<text x="1421.8" y="577" font-size="10.0" fill="#000" stroke="#000" stroke-width="0.22" textLength="38.6" lengthAdjust="spacingAndGlyphs">0.002574</text>
<rect x="1419" y="597" width="2" height="1" fill="#000"/>
<text x="1421.8" y="601" font-size="10.0" fill="#000" stroke="#000" stroke-width="0.22" textLength="19.5" lengthAdjust="spacingAndGlyphs">0.00</text>
<rect x="1419" y="668" width="2" height="1" fill="#000"/>
<text x="1421.6" y="666" font-size="10.0" fill="#000" stroke="#000" stroke-width="0.22" textLength="41.5" lengthAdjust="spacingAndGlyphs">-0.006326</text>
<text x="6.8" y="684.3" font-size="10.0" fill="#000" stroke="#000" stroke-width="0.22" textLength="67.5" lengthAdjust="spacingAndGlyphs">RSI(14) 45.0700</text>
<g shape-rendering="crispEdges">
<line x1="3" y1="711.5" x2="1417" y2="711.5" stroke="#c0c0c0" stroke-dasharray="3,3"/>
<line x1="3" y1="762.5" x2="1417" y2="762.5" stroke="#c0c0c0" stroke-dasharray="3,3"/>
<polyline points="3.5,739.0 11.5,736.3 19.5,737.6 27.5,729.4 35.5,733.5 43.5,737.6 51.5,740.4 59.5,732.7 67.5,729.4 75.5,739.8 83.5,740.4 91.5,736.3 99.5,734.3 107.5,734.3 115.5,745.3 123.5,733.5 131.5,735.4 139.5,736.3 147.5,736.3 155.5,732.2 163.5,730.8 171.5,723.4 179.5,733.5 187.5,725.3 195.5,725.3 203.5,725.3 211.5,727.2 219.5,725.3 227.5,732.2 235.5,732.7 243.5,735.4 251.5,744.5 259.5,758.1 267.5,757.3 275.5,751.8 283.5,749.9 291.5,747.2 299.5,749.1 307.5,753.5 315.5,758.1 323.5,751.8 331.5,758.1 339.5,752.7 347.5,749.9 355.5,751.3 363.5,752.1 371.5,749.1 379.5,751.8 387.5,758.1 395.5,759.5 403.5,760.9 411.5,765.0 419.5,769.1 427.5,757.3 435.5,753.5 443.5,758.1 451.5,758.9 459.5,753.5 467.5,744.5 475.5,745.3 483.5,747.2 491.5,745.3 499.5,746.4 507.5,749.9 515.5,740.4 523.5,742.5 531.5,732.2 539.5,728.0 547.5,733.5 555.5,732.2 563.5,725.3 571.5,728.9 579.5,737.1 587.5,737.6 595.5,743.6 603.5,747.2 611.5,756.2 619.5,752.7 627.5,757.3 635.5,748.6 643.5,747.2 651.5,738.4 659.5,737.1 667.5,733.5 675.5,729.4 683.5,730.0 691.5,726.1 699.5,721.8 707.5,719.0 715.5,718.5 723.5,734.3 731.5,728.0 739.5,722.6 747.5,723.4 755.5,734.3 763.5,734.3 771.5,736.3 779.5,745.3 787.5,737.6 795.5,735.4 803.5,726.7 811.5,727.5 819.5,724.0 827.5,728.9 835.5,730.8 843.5,721.2 851.5,727.2 859.5,727.2 867.5,730.0 875.5,737.1 883.5,740.9 891.5,745.8 899.5,753.2 907.5,753.2 915.5,754.0 923.5,758.1 931.5,762.2 939.5,767.1 947.5,767.1 955.5,768.2 963.5,771.0 971.5,771.0 979.5,771.0 987.5,754.0 995.5,757.3 1003.5,758.9 1011.5,762.2 1019.5,750.5 1027.5,757.3 1035.5,752.7 1043.5,749.4 1051.5,749.4 1059.5,754.0 1067.5,749.9 1075.5,746.4 1083.5,751.3 1091.5,752.7 1099.5,759.5 1107.5,743.1 1115.5,743.1" fill="none" stroke="#1e90ff" stroke-width="1"/>
</g>
<rect x="1419" y="673" width="2" height="1" fill="#000"/>
<text x="1421.8" y="682" font-size="10.0" fill="#000" stroke="#000" stroke-width="0.22" textLength="15.5" lengthAdjust="spacingAndGlyphs">100</text>
<text x="1420.8" y="715" font-size="10.0" fill="#000" stroke="#000" stroke-width="0.22" textLength="10.4" lengthAdjust="spacingAndGlyphs">70</text>
<text x="1420.8" y="766" font-size="10.0" fill="#000" stroke="#000" stroke-width="0.22" textLength="10.4" lengthAdjust="spacingAndGlyphs">30</text>
<rect x="1419" y="800" width="2" height="1" fill="#000"/>
<text x="1421.8" y="798" font-size="10.0" fill="#000" stroke="#000" stroke-width="0.22" textLength="5.2" lengthAdjust="spacingAndGlyphs">0</text>
<rect x="3" y="802" width="1" height="3" fill="#000"/>
<text x="2.4" y="814" font-size="10.0" fill="#000" stroke="#000" stroke-width="0.22" textLength="52.62" lengthAdjust="spacingAndGlyphs">17 Mar 2019</text>
<rect x="67" y="802" width="1" height="3" fill="#000"/>
<text x="66.4" y="814" font-size="10.0" fill="#000" stroke="#000" stroke-width="0.22" textLength="52.62" lengthAdjust="spacingAndGlyphs">26 Mar 2019</text>
<rect x="131" y="802" width="1" height="3" fill="#000"/>
<text x="130.4" y="814" font-size="10.0" fill="#000" stroke="#000" stroke-width="0.22" textLength="45.34" lengthAdjust="spacingAndGlyphs">4 Apr 2019</text>
<rect x="195" y="802" width="1" height="3" fill="#000"/>
<text x="194.4" y="814" font-size="10.0" fill="#000" stroke="#000" stroke-width="0.22" textLength="50.55" lengthAdjust="spacingAndGlyphs">14 Apr 2019</text>
<rect x="259" y="802" width="1" height="3" fill="#000"/>
<text x="258.4" y="814" font-size="10.0" fill="#000" stroke="#000" stroke-width="0.22" textLength="50.55" lengthAdjust="spacingAndGlyphs">24 Apr 2019</text>
<rect x="323" y="802" width="1" height="3" fill="#000"/>
<text x="322.4" y="814" font-size="10.0" fill="#000" stroke="#000" stroke-width="0.22" textLength="48.98" lengthAdjust="spacingAndGlyphs">3 May 2019</text>
<rect x="387" y="802" width="1" height="3" fill="#000"/>
<text x="386.4" y="814" font-size="10.0" fill="#000" stroke="#000" stroke-width="0.22" textLength="54.19" lengthAdjust="spacingAndGlyphs">13 May 2019</text>
<rect x="451" y="802" width="1" height="3" fill="#000"/>
<text x="450.4" y="814" font-size="10.0" fill="#000" stroke="#000" stroke-width="0.22" textLength="54.19" lengthAdjust="spacingAndGlyphs">22 May 2019</text>
<rect x="515" y="802" width="1" height="3" fill="#000"/>
<text x="514.4" y="814" font-size="10.0" fill="#000" stroke="#000" stroke-width="0.22" textLength="54.19" lengthAdjust="spacingAndGlyphs">31 May 2019</text>
<rect x="579" y="802" width="1" height="3" fill="#000"/>
<text x="578.4" y="814" font-size="10.0" fill="#000" stroke="#000" stroke-width="0.22" textLength="51.59" lengthAdjust="spacingAndGlyphs">10 Jun 2019</text>
<rect x="643" y="802" width="1" height="3" fill="#000"/>
<text x="642.4" y="814" font-size="10.0" fill="#000" stroke="#000" stroke-width="0.22" textLength="51.59" lengthAdjust="spacingAndGlyphs">19 Jun 2019</text>
<rect x="707" y="802" width="1" height="3" fill="#000"/>
<text x="706.4" y="814" font-size="10.0" fill="#000" stroke="#000" stroke-width="0.22" textLength="51.59" lengthAdjust="spacingAndGlyphs">28 Jun 2019</text>
<rect x="771" y="802" width="1" height="3" fill="#000"/>
<text x="770.4" y="814" font-size="10.0" fill="#000" stroke="#000" stroke-width="0.22" textLength="43.25" lengthAdjust="spacingAndGlyphs">8 Jul 2019</text>
<rect x="835" y="802" width="1" height="3" fill="#000"/>
<text x="834.4" y="814" font-size="10.0" fill="#000" stroke="#000" stroke-width="0.22" textLength="48.46" lengthAdjust="spacingAndGlyphs">17 Jul 2019</text>
<rect x="899" y="802" width="1" height="3" fill="#000"/>
<text x="898.4" y="814" font-size="10.0" fill="#000" stroke="#000" stroke-width="0.22" textLength="48.46" lengthAdjust="spacingAndGlyphs">26 Jul 2019</text>
<rect x="963" y="802" width="1" height="3" fill="#000"/>
<text x="962.4" y="814" font-size="10.0" fill="#000" stroke="#000" stroke-width="0.22" textLength="47.43" lengthAdjust="spacingAndGlyphs">5 Aug 2019</text>
<rect x="1027" y="802" width="1" height="3" fill="#000"/>
<text x="1026.4" y="814" font-size="10.0" fill="#000" stroke="#000" stroke-width="0.22" textLength="52.64" lengthAdjust="spacingAndGlyphs">14 Aug 2019</text>
<rect x="1091" y="802" width="1" height="3" fill="#000"/>
<text x="1090.4" y="814" font-size="10.0" fill="#000" stroke="#000" stroke-width="0.22" textLength="52.64" lengthAdjust="spacingAndGlyphs">23 Aug 2019</text>
<rect x="0" y="822" width="1463" height="1" fill="#e4e4e4"/>
<rect x="0" y="824" width="1463" height="15" fill="#f0f0f0"/>
<rect x="0" y="824" width="1463" height="1" fill="#000000"/>
<rect x="0" y="825" width="1463" height="1" fill="#ffffff"/>
<rect x="112" y="823" width="108" height="16" fill="#ffffff"/>
<rect x="112" y="824" width="1" height="15" fill="#000000"/>
<rect x="219" y="824" width="1" height="15" fill="#000000"/>
<rect x="220" y="825" width="1" height="14" fill="#ffffff"/>
<text x="15.5" y="838.7" font-size="12.2" fill="#686868" textLength="85" lengthAdjust="spacingAndGlyphs">EURUSD-,Daily</text>
<text x="121" y="838.7" font-size="12.2" fill="#000" textLength="88.5" lengthAdjust="spacingAndGlyphs">AUDUSD-,Daily</text>
<text x="232.5" y="838.7" font-size="12.2" fill="#686868" textLength="84" lengthAdjust="spacingAndGlyphs">USDCHF-,Daily</text>
<text x="340" y="838.7" font-size="12.2" fill="#686868" textLength="84.5" lengthAdjust="spacingAndGlyphs">USDCAD-,Daily</text>
<text x="448" y="838.7" font-size="12.2" fill="#686868" textLength="88.5" lengthAdjust="spacingAndGlyphs">USDCNH-,Daily</text>
<text x="559.5" y="838.7" font-size="12.2" fill="#686868" textLength="96.5" lengthAdjust="spacingAndGlyphs">EURCHF-,Weekly</text>
<text x="679.8" y="838.7" font-size="12.2" fill="#686868" textLength="100.5" lengthAdjust="spacingAndGlyphs">XAUUSD-,Weekly</text>
<text x="803" y="838.7" font-size="12.2" fill="#686868" textLength="73" lengthAdjust="spacingAndGlyphs">GBPUSD-,H1</text>
<text x="899.2" y="838.7" font-size="12.2" fill="#686868" textLength="56.5" lengthAdjust="spacingAndGlyphs">UKOil-,H1</text>
<text x="977.8" y="838.7" font-size="12.2" fill="#686868" textLength="82.7" lengthAdjust="spacingAndGlyphs">USDX-,Weekly</text>
<rect x="328" y="827" width="1" height="12" fill="#5a5a5a"/>
<rect x="436" y="827" width="1" height="12" fill="#5a5a5a"/>
<rect x="548" y="827" width="1" height="12" fill="#5a5a5a"/>
<rect x="668" y="827" width="1" height="12" fill="#5a5a5a"/>
<rect x="792" y="827" width="1" height="12" fill="#5a5a5a"/>
<rect x="888" y="827" width="1" height="12" fill="#5a5a5a"/>
<rect x="969" y="827" width="1" height="12" fill="#5a5a5a"/>
<rect x="1073" y="827" width="1" height="12" fill="#5a5a5a"/>
<polygon points="1437.5,829.5 1437.5,837.5 1433.5,833.5" fill="#8a8a8a"/>
<polygon points="1453,829.5 1453,837.5 1457,833.5" fill="#8a8a8a"/>
</svg>
</body></html>
